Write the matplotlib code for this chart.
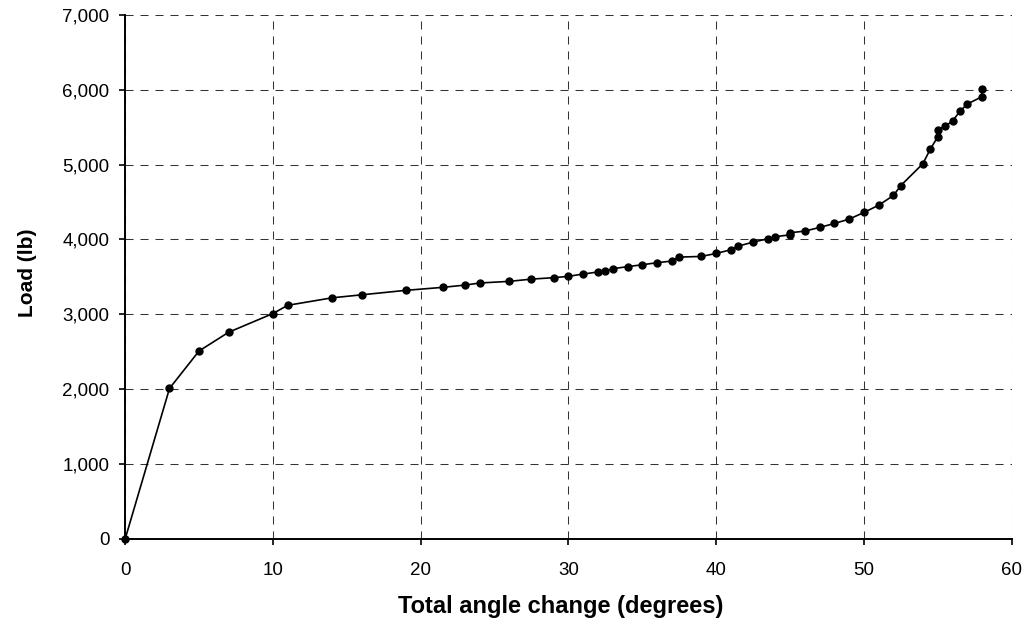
import numpy as np
import matplotlib.pyplot as plt
from matplotlib.ticker import FuncFormatter

# total angle change (degrees) and load (lb)
angle = [0, 3, 5, 7, 10, 11, 14, 16, 19, 21.5, 23, 24, 26, 27.5, 29, 30,
         31, 32, 32.5, 33, 34, 35, 36, 37, 37.5, 39, 40, 41, 41.5, 42.5,
         43.5, 44, 45, 45, 46, 47, 48, 49, 50, 51, 52, 52.5, 54, 54.5,
         55, 55, 55.5, 56, 56.5, 57, 58, 58]
load = [0, 2010, 2510, 2760, 3010, 3120, 3220, 3260, 3320, 3360, 3390,
        3418, 3440, 3470, 3489, 3507, 3538, 3565, 3578, 3609, 3636, 3662,
        3689, 3711, 3764, 3773, 3813, 3862, 3911, 3964, 4009, 4036, 4062,
        4089, 4111, 4160, 4213, 4271, 4360, 4457, 4587, 4720, 5013, 5209,
        5369, 5462, 5511, 5582, 5711, 5809, 5907, 6009]

plt.rcParams['font.family'] = ['Liberation Sans', 'DejaVu Sans']

fig = plt.figure(figsize=(10.26, 6.18), dpi=100)
ax = fig.add_axes([0.122, 0.128, 0.864, 0.848])

ax.plot(angle, load, color='black', lw=1.2, marker='o', ms=5, zorder=3,
        clip_on=False)

ax.set_xlim(0, 60)
ax.set_ylim(0, 7000)
ax.set_xticks(np.arange(0, 61, 10))
ax.set_yticks(np.arange(0, 7001, 1000))
ax.yaxis.set_major_formatter(FuncFormatter(lambda v, p: f'{int(v):,}'))
ax.tick_params(direction='out', length=4.3, width=1.2, labelsize=13.5)
ax.tick_params(axis='x', pad=12)
ax.tick_params(axis='y', pad=7)

ax.grid(True, color='#333333', linestyle=(0, (7.7, 6.7)), linewidth=0.75)
ax.spines['top'].set_visible(False)
ax.spines['right'].set_visible(False)
ax.spines['left'].set_linewidth(1.4)
ax.spines['bottom'].set_linewidth(1.4)

ax.set_xlabel('Total angle change (degrees)', fontsize=17, fontweight='bold')
ax.set_ylabel('Load (lb)', fontsize=15, fontweight='bold')
ax.xaxis.set_label_coords(0.491, -0.107)
ax.yaxis.set_label_coords(-0.100, 0.507)

plt.savefig('out.png', dpi=100)
